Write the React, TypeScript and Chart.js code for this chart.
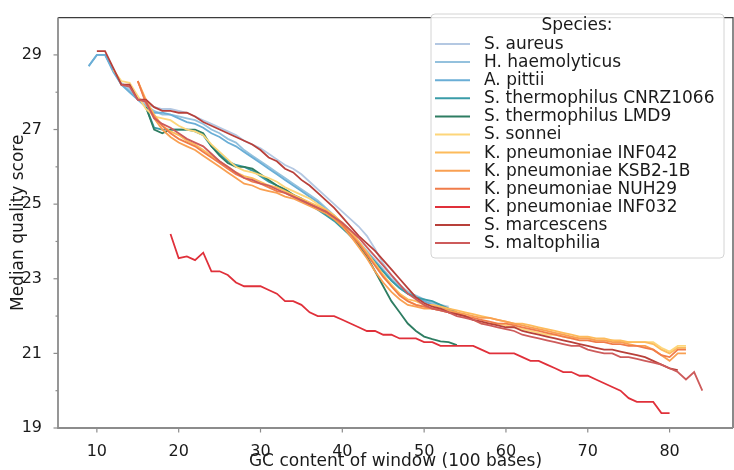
import React, { useEffect, useRef } from "react";
import { Chart, registerables } from "chart.js";

Chart.register(...registerables);

const FONT = "'DejaVu Sans', 'Liberation Sans', sans-serif";
const TEXT = "#1a1a1a";

const SPECIES = [
  "S. aureus",
  "H. haemolyticus",
  "A. pittii",
  "S. thermophilus CNRZ1066",
  "S. thermophilus LMD9",
  "S. sonnei",
  "K. pneumoniae INF042",
  "K. pneumoniae KSB2-1B",
  "K. pneumoniae NUH29",
  "K. pneumoniae INF032",
  "S. marcescens",
  "S. maltophilia",
];

const COLORS = [
  "#b4c8e2",
  "#94c1dd",
  "#6aaed6",
  "#3a9ca8",
  "#2e7d62",
  "#fdd67a",
  "#fdbb5b",
  "#f9a052",
  "#f07c4a",
  "#e0303a",
  "#b8403a",
  "#cd5b5b",
];

// first GC value (x) of each series
const STARTS = [10, 9, 9, 16, 16, 12, 15, 15, 15, 19, 10, 13];

const S_AUREUS = [
  29.0, 29.0, 28.6, 28.25, 28.1, 27.85, 27.7, 27.6, 27.55, 27.55,
  27.5, 27.45, 27.35, 27.25, 27.15, 27.05, 26.95, 26.85, 26.7, 26.6,
  26.5, 26.35, 26.2, 26.05, 25.95, 25.8, 25.6, 25.4, 25.2, 25.0,
  24.8, 24.6, 24.4, 24.15, 23.8, 23.4, 23.1, 22.85, 22.65, 22.5,
  22.4, 22.35, 22.3, 22.25,
];
const H_HAEMOLYTICUS = [
  28.7,
  29.0, 29.0, 28.6, 28.2, 28.05, 27.8, 27.65, 27.5, 27.4, 27.4,
  27.35, 27.3, 27.25, 27.15, 27.0, 26.9, 26.75, 26.65, 26.45, 26.3,
  26.15, 26.0, 25.85, 25.7, 25.55, 25.4, 25.25, 25.1, 24.9, 24.7,
  24.45, 24.25, 24.0, 23.75, 23.5, 23.25, 23.0, 22.8, 22.65, 22.55,
  22.45, 22.35, 22.3,
];
const A_PITTII = [
  28.7,
  29.0, 29.0, 28.55, 28.2, 28.0, 27.8, 27.6, 27.45, 27.45, 27.4,
  27.3, 27.2, 27.15, 27.05, 26.9, 26.8, 26.65, 26.55, 26.4, 26.25,
  26.1, 25.95, 25.8, 25.65, 25.5, 25.35, 25.2, 25.05, 24.85, 24.65,
  24.4, 24.2, 23.95, 23.7, 23.45, 23.2, 22.95, 22.75, 22.6, 22.5,
  22.4, 22.3, 22.25, 22.15, 22.1,
];
const S_THERMO_CNRZ1066 = [
  27.6, 27.05, 27.0, 27.0,
  27.0, 27.0, 26.95, 26.85, 26.55, 26.35, 26.15, 26.05, 26.0, 25.9,
  25.75, 25.6, 25.5, 25.35, 25.25, 25.1, 25.0, 24.85, 24.7, 24.55,
  24.35, 24.15, 23.95, 23.7, 23.45, 23.2, 22.95, 22.75, 22.6, 22.5,
  22.45, 22.4, 22.3, 22.2, 22.1,
];
const S_THERMO_LMD9 = [
  27.6, 27.0, 26.9, 27.0,
  27.0, 27.0, 27.0, 26.9, 26.55, 26.3, 26.1, 26.0, 26.0, 25.95,
  25.8, 25.65, 25.5, 25.4, 25.25, 25.15, 25.0, 24.9, 24.75, 24.6,
  24.4, 24.15, 23.9, 23.6, 23.2, 22.8, 22.4, 22.1, 21.8, 21.6,
  21.45, 21.38, 21.32, 21.3, 21.22,
];
const S_SONNEI = [
  28.6, 28.3, 28.25, 27.9, 27.55, 27.35, 27.3, 27.25,
  27.1, 27.0, 26.95, 26.85, 26.6, 26.4, 26.2, 26.0, 25.9, 25.85,
  25.78, 25.7, 25.6, 25.45, 25.35, 25.25, 25.15, 25.0, 24.85, 24.7,
  24.5, 24.25, 24.0, 23.7, 23.4, 23.1, 22.85, 22.6, 22.4, 22.3,
  22.25, 22.2, 22.15, 22.1, 22.1, 22.0, 21.9, 21.8, 21.8, 21.8,
  21.75, 21.7, 21.65, 21.6, 21.55, 21.5, 21.5, 21.45, 21.4, 21.4,
  21.4, 21.35, 21.35, 21.35, 21.3, 21.3, 21.3, 21.3, 21.3, 21.15,
  21.05, 21.2, 21.2,
];
const K_PNEU_INF042 = [
  28.3, 27.8, 27.4, 27.1, 26.95,
  26.85, 26.7, 26.6, 26.45, 26.3, 26.15, 26.0, 25.85, 25.75, 25.7,
  25.6, 25.5, 25.45, 25.35, 25.25, 25.15, 25.05, 24.95, 24.85, 24.7,
  24.5, 24.3, 24.0, 23.7, 23.4, 23.1, 22.8, 22.6, 22.45, 22.4,
  22.3, 22.3, 22.25, 22.2, 22.15, 22.1, 22.05, 22.0, 21.95, 21.9,
  21.85, 21.8, 21.8, 21.75, 21.7, 21.65, 21.6, 21.55, 21.5, 21.45,
  21.45, 21.4, 21.4, 21.35, 21.35, 21.3, 21.3, 21.3, 21.25, 21.1,
  21.0, 21.15, 21.15,
];
const K_PNEU_KSB2 = [
  28.3, 27.75, 27.3, 27.0, 26.8,
  26.65, 26.55, 26.45, 26.3, 26.15, 26.0, 25.85, 25.7, 25.55, 25.5,
  25.4, 25.35, 25.3, 25.2, 25.15, 25.05, 24.95, 24.85, 24.75, 24.6,
  24.4, 24.15, 23.85, 23.55, 23.2, 22.9, 22.65, 22.45, 22.3, 22.25,
  22.2, 22.2, 22.2, 22.15, 22.1, 22.05, 22.0, 21.95, 21.95, 21.9,
  21.85, 21.8, 21.75, 21.7, 21.65, 21.6, 21.55, 21.5, 21.45, 21.4,
  21.4, 21.35, 21.35, 21.3, 21.3, 21.25, 21.2, 21.2, 21.1, 20.95,
  20.8, 21.0, 21.0,
];
const K_PNEU_NUH29 = [
  28.3, 27.7, 27.35, 27.1, 26.9,
  26.75, 26.65, 26.55, 26.4, 26.25, 26.1, 25.95, 25.8, 25.7, 25.6,
  25.55, 25.45, 25.35, 25.3, 25.2, 25.1, 25.0, 24.9, 24.8, 24.65,
  24.45, 24.2, 23.95, 23.65, 23.35, 23.05, 22.8, 22.55, 22.4, 22.3,
  22.25, 22.2, 22.15, 22.1, 22.05, 22.0, 21.95, 21.9, 21.85, 21.8,
  21.8, 21.75, 21.7, 21.65, 21.6, 21.55, 21.5, 21.45, 21.4, 21.35,
  21.35, 21.3, 21.3, 21.25, 21.25, 21.2, 21.2, 21.15, 21.1, 20.95,
  20.9, 21.1, 21.1,
];
const K_PNEU_INF032 = [
  24.2,
  23.55, 23.6, 23.5, 23.7, 23.2, 23.2, 23.1, 22.9, 22.8, 22.8,
  22.8, 22.7, 22.6, 22.4, 22.4, 22.3, 22.1, 22.0, 22.0, 22.0,
  21.9, 21.8, 21.7, 21.6, 21.6, 21.5, 21.5, 21.4, 21.4, 21.4,
  21.3, 21.3, 21.2, 21.2, 21.2, 21.2, 21.2, 21.1, 21.0, 21.0,
  21.0, 21.0, 20.9, 20.8, 20.8, 20.7, 20.6, 20.5, 20.5, 20.4,
  20.4, 20.3, 20.2, 20.1, 20.0, 19.8, 19.7, 19.7, 19.7, 19.4,
  19.4,
];
const S_MARCESCENS = [
  29.1, 29.1, 28.65, 28.2, 28.2, 27.8, 27.8, 27.6, 27.5, 27.5,
  27.45, 27.45, 27.35, 27.2, 27.1, 27.0, 26.9, 26.8, 26.7, 26.6,
  26.45, 26.25, 26.15, 25.95, 25.85, 25.65, 25.5, 25.3, 25.1, 24.9,
  24.65, 24.4, 24.15, 23.95, 23.75, 23.5, 23.25, 23.0, 22.75, 22.5,
  22.35, 22.25, 22.2, 22.1, 22.05, 22.0, 21.9, 21.85, 21.8, 21.75,
  21.7, 21.7, 21.6, 21.55, 21.5, 21.45, 21.4, 21.35, 21.3, 21.25,
  21.2, 21.15, 21.1, 21.1, 21.05, 21.0, 20.95, 20.9, 20.8, 20.7,
  20.6, 20.55,
];
const S_MALTOPHILIA = [
  28.2, 28.15, 27.8, 27.75, 27.3, 27.15, 27.05,
  26.9, 26.75, 26.65, 26.55, 26.35, 26.15, 26.0, 25.85, 25.7, 25.65,
  25.55, 25.5, 25.4, 25.3, 25.2, 25.1, 25.0, 24.9, 24.8, 24.65,
  24.5, 24.3, 24.1, 23.85, 23.6, 23.35, 23.1, 22.85, 22.6, 22.45,
  22.3, 22.2, 22.15, 22.1, 22.0, 21.95, 21.9, 21.8, 21.75, 21.7,
  21.65, 21.6, 21.5, 21.45, 21.4, 21.35, 21.3, 21.25, 21.2, 21.2,
  21.1, 21.05, 21.0, 21.0, 20.9, 20.9, 20.85, 20.8, 20.75, 20.7,
  20.6, 20.5, 20.3, 20.5, 20.0,
];

const SERIES = [
  S_AUREUS,
  H_HAEMOLYTICUS,
  A_PITTII,
  S_THERMO_CNRZ1066,
  S_THERMO_LMD9,
  S_SONNEI,
  K_PNEU_INF042,
  K_PNEU_KSB2,
  K_PNEU_NUH29,
  K_PNEU_INF032,
  S_MARCESCENS,
  S_MALTOPHILIA,
];

const X_TICKS = [10, 20, 30, 40, 50, 60, 70, 80];
const Y_TICKS = [19, 20, 21, 22, 23, 24, 25, 26, 27, 28, 29];
const Y_LABELED = [19, 21, 23, 25, 27, 29];

const X_TITLE = "GC content of window (100 bases)";
const Y_TITLE = "Median quality score";
const LEGEND_TITLE = "Species:";

const decorPlugin = {
  id: "decor",
  afterDraw(chart: any) {
    const { ctx, chartArea: ca, scales } = chart;
    ctx.save();
    // tick marks
    ctx.strokeStyle = "#8c8c8c";
    ctx.lineWidth = 1.2;
    Y_TICKS.forEach((v) => {
      const y = scales.y.getPixelForValue(v);
      const len = Y_LABELED.includes(v) ? 4.5 : 2.5;
      ctx.beginPath();
      ctx.moveTo(ca.left - len, y);
      ctx.lineTo(ca.left, y);
      ctx.stroke();
    });
    X_TICKS.forEach((v) => {
      const x = scales.x.getPixelForValue(v);
      ctx.beginPath();
      ctx.moveTo(x, ca.bottom);
      ctx.lineTo(x, ca.bottom + 4.5);
      ctx.stroke();
    });
    // spines
    ctx.strokeStyle = "#3c3c3c";
    ctx.lineWidth = 1.2;
    ctx.beginPath();
    ctx.moveTo(ca.left, ca.top);
    ctx.lineTo(ca.right, ca.top);
    ctx.lineTo(ca.right, ca.bottom);
    ctx.stroke();
    ctx.strokeStyle = "#8c8c8c";
    ctx.lineWidth = 1.8;
    ctx.beginPath();
    ctx.moveTo(ca.left, ca.top);
    ctx.lineTo(ca.left, ca.bottom);
    ctx.lineTo(ca.right, ca.bottom);
    ctx.stroke();

    // legend
    const bx = 431, by = 14, bw = 293, bh = 244, r = 4;
    ctx.beginPath();
    ctx.moveTo(bx + r, by);
    ctx.lineTo(bx + bw - r, by);
    ctx.quadraticCurveTo(bx + bw, by, bx + bw, by + r);
    ctx.lineTo(bx + bw, by + bh - r);
    ctx.quadraticCurveTo(bx + bw, by + bh, bx + bw - r, by + bh);
    ctx.lineTo(bx + r, by + bh);
    ctx.quadraticCurveTo(bx, by + bh, bx, by + bh - r);
    ctx.lineTo(bx, by + r);
    ctx.quadraticCurveTo(bx, by, bx + r, by);
    ctx.closePath();
    ctx.fillStyle = "rgba(255,255,255,0.85)";
    ctx.fill();
    ctx.strokeStyle = "#d4d4d4";
    ctx.lineWidth = 1;
    ctx.stroke();

    ctx.fillStyle = TEXT;
    ctx.font = `17px ${FONT}`;
    ctx.textBaseline = "middle";
    ctx.textAlign = "center";
    ctx.fillText(LEGEND_TITLE, 577, 26);
    ctx.textAlign = "left";
    chart.data.datasets.forEach((ds: any, i: number) => {
      const y = 44 + i * 18.1;
      ctx.strokeStyle = ds.borderColor;
      ctx.lineWidth = 2;
      ctx.beginPath();
      ctx.moveTo(435, y);
      ctx.lineTo(470, y);
      ctx.stroke();
      ctx.fillStyle = TEXT;
      ctx.fillText(ds.label, 484, y + 0.5);
    });
    ctx.restore();
  },
};

export default function App() {
  const ref = useRef<HTMLCanvasElement | null>(null);
  useEffect(() => {
    if (!ref.current) return;
    const datasets = SPECIES.map((name, i) => ({
      label: name,
      data: SERIES[i].map((v, j) => ({ x: STARTS[i] + j, y: v })),
      borderColor: COLORS[i],
      backgroundColor: COLORS[i],
      borderWidth: 1.8,
      pointRadius: 0,
      fill: false,
      tension: 0,
      order: SPECIES.length - 1 - i,
    }));
    const chart = new Chart(ref.current, {
      type: "line",
      data: { datasets },
      options: {
        animation: false,
        responsive: false,
        layout: { padding: { top: 5, right: 1, left: 0, bottom: 0 } },
        plugins: { legend: { display: false }, tooltip: { enabled: false } },
        scales: {
          x: {
            type: "linear",
            min: 5.25,
            max: 87.75,
            afterBuildTicks: (s: any) => {
              s.ticks = X_TICKS.map((v) => ({ value: v }));
            },
            afterFit: (s: any) => {
              s.height = 42;
            },
            grid: { display: false },
            border: { display: false },
            ticks: {
              autoSkip: false,
              maxRotation: 0,
              padding: 6,
              color: TEXT,
              font: { family: FONT, size: 16 },
              callback: (v: any) => String(v),
            },
            title: {
              display: true,
              text: X_TITLE,
              color: TEXT,
              font: { family: FONT, size: 17, lineHeight: 1 },
              padding: { top: 0, bottom: 0 },
            },
          },
          y: {
            type: "linear",
            min: 19,
            max: 30,
            afterBuildTicks: (s: any) => {
              s.ticks = Y_TICKS.map((v) => ({ value: v }));
            },
            afterFit: (s: any) => {
              s.width = 58;
            },
            grid: { display: false },
            border: { display: false },
            ticks: {
              autoSkip: false,
              padding: 8,
              color: TEXT,
              font: { family: FONT, size: 16 },
              callback: (v: any) => (Y_LABELED.includes(Number(v)) ? String(v) : ""),
            },
            title: {
              display: true,
              text: Y_TITLE,
              color: TEXT,
              font: { family: FONT, size: 17, lineHeight: 1 },
              padding: { top: 10, bottom: 0 },
            },
          },
        },
      },
      plugins: [decorPlugin],
    } as any);
    return () => chart.destroy();
  }, []);
  return (
    <div style={{ position: "absolute", left: 0, top: 0, width: 734, height: 470, background: "#fff" }}>
      <canvas ref={ref} width={734} height={470} style={{ display: "block" }} />
    </div>
  );
}
